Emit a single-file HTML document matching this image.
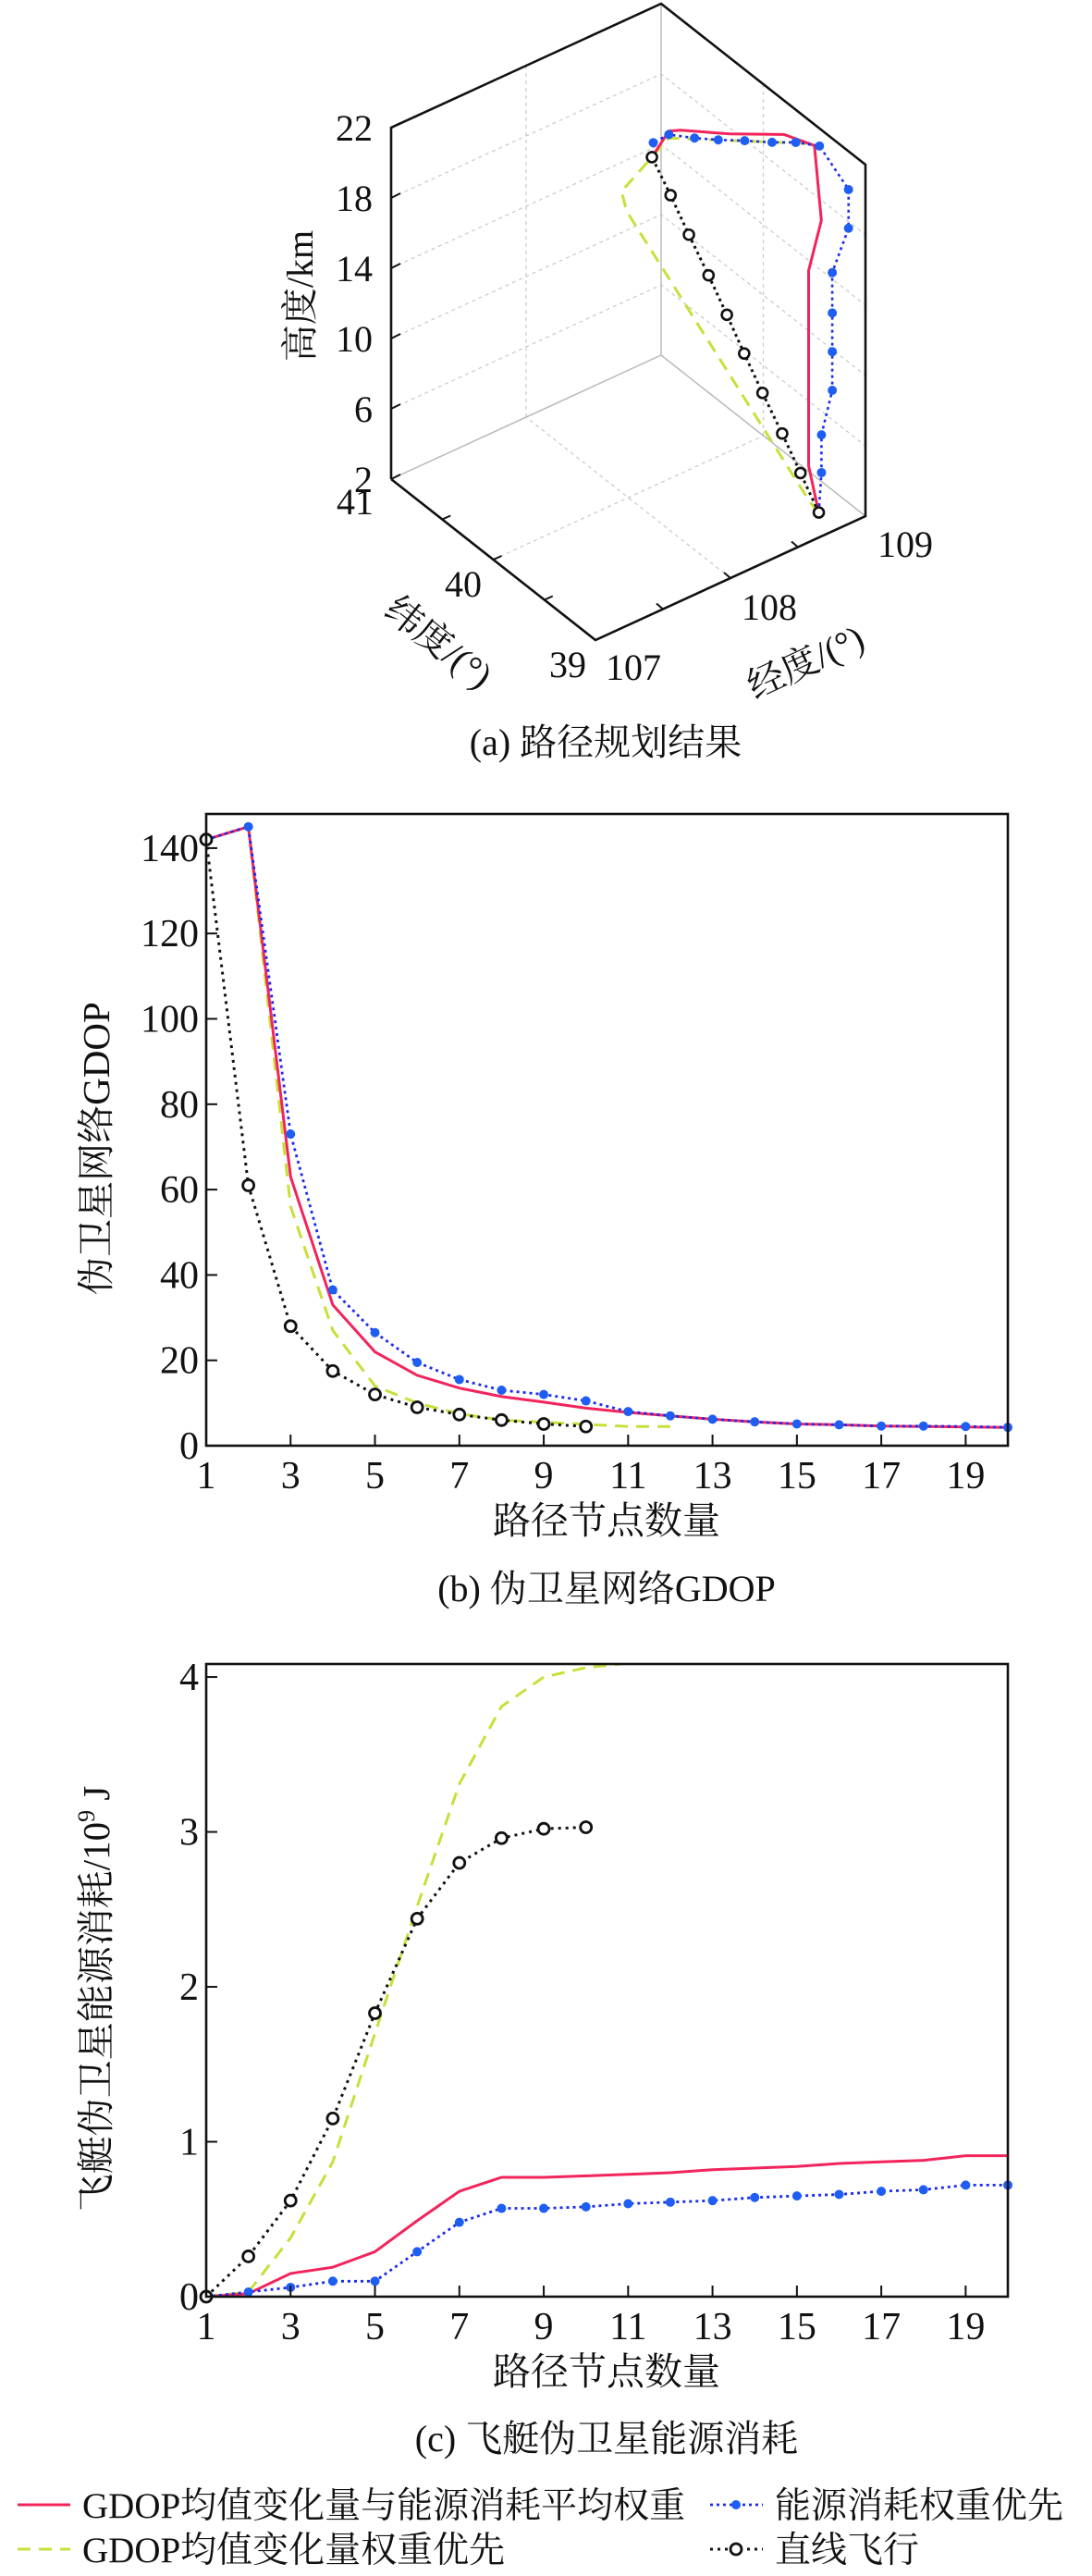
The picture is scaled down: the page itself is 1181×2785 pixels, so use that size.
<!DOCTYPE html>
<html><head><meta charset="utf-8"><style>
html,body{margin:0;padding:0;background:#fff;}
svg{display:block;}
text{font-family:"Liberation Serif","Noto Serif CJK SC",serif;fill:#111;}
</style></head><body>
<svg id="fig" width="1181" height="2785" viewBox="0 0 1181 2785" xmlns="http://www.w3.org/2000/svg">
<g id="a"></g>
<g id="b"></g>
<g id="c"></g>
<g id="legend"></g>
</svg>
<script>
// ---------- 3D path data (lon, lat, alt km) ----------
const redLon=[108.73,108.73,108.73,108.9,109.0,108.85,108.6,108.35,108.3,108.16];
const redLat=[39.1,39.2,39.2,39.3,39.5,39.6,39.8,39.95,40.0,39.98];
const redAlt=[2.7,4.9,16.0,17.8,20.8,21.5,21.5,21.9,21.8,20.9];
const blueLon=[108.73,108.75,108.75,108.83,108.83,108.83,108.83,108.95,108.95,109.0,108.9,108.8,108.65,108.5,108.4,108.3,108.2,108.16];
const blueLat=[39.1,39.1,39.1,39.1,39.1,39.1,39.1,39.1,39.1,39.45,39.55,39.65,39.72,39.78,39.88,40.0,40.02,39.98];
const blueAlt=[2.7,4.9,7.05,9.3,11.5,13.7,16.0,18.1,20.3,21.0,21.1,21.0,21.3,21.6,21.6,21.6,21.4,20.9];
const lineLon=[108.73,108.67,108.61,108.54,108.48,108.42,108.36,108.29,108.23,108.16];
const lineLat=[39.10,39.20,39.30,39.40,39.50,39.59,39.69,39.79,39.89,39.98];
const lineAlt=[2.7,4.7,6.7,8.8,10.8,12.8,14.8,16.9,18.9,20.9];
const yelLon=[108.73,108.7,107.95,107.95,108.16,108.3,109.0];
const yelLat=[39.1,39.15,39.95,40.0,39.98,40.0,39.5];
const yelAlt=[2.7,3.2,18.7,19.6,20.9,21.4,20.9];
const altTicks=[2,6,10,14,18,22];
const latTicks=[39,40,41];
const lonTicks=[107,108,109];

// ---------- GDOP data ----------
const nodes=[1,2,3,4,5,6,7,8,9,10,11,12,13,14,15,16,17,18,19,20];
const gdopRed=[142,145,63,33,22,16.5,13.5,11.5,10.2,8.8,7.8,7,6.2,5.6,5.1,4.9,4.6,4.5,4.4,4.3];
const gdopBlue=[142,145,73,36.5,26.5,19.5,15.5,13,12,10.5,8,7,6.2,5.6,5.1,4.9,4.6,4.6,4.5,4.3];
const gdopYellow=[142,145,56,27,14,10,7.5,6,5.5,5,4.5,4.5];
const gdopBlack=[142,61,28,17.5,12,9,7.3,6,5.1,4.5];
const gdopYTicks=[0,20,40,60,80,100,120,140];
const xTicks=[1,3,5,7,9,11,13,15,17,19];

// ---------- Energy data (1e9 J) ----------
const enRed=[0,0.02,0.15,0.19,0.29,0.49,0.68,0.77,0.77,0.78,0.79,0.80,0.82,0.83,0.84,0.86,0.87,0.88,0.91,0.91];
const enBlue=[0,0.03,0.06,0.10,0.10,0.29,0.48,0.57,0.57,0.58,0.60,0.61,0.62,0.64,0.65,0.66,0.68,0.69,0.72,0.72];
const enYellow=[0,0.03,0.38,0.87,1.70,2.52,3.31,3.81,4.0,4.06,4.09];
const enBlack=[0,0.26,0.62,1.15,1.83,2.44,2.80,2.96,3.02,3.03];
const enYTicks=[0,1,2,3,4];

const NS="http://www.w3.org/2000/svg";
function mk(parent,tag,attrs,txt){const e=document.createElementNS(NS,tag);for(const k in attrs)e.setAttribute(k,attrs[k]);if(txt!==undefined)e.textContent=txt;parent.appendChild(e);return e;}
const RED="#f2245c",BLUE="#1b2bf0",BMARK="#1f5ef2",YEL="#c9df3a",BLK="#111";

// ---------- chart a ----------
const A=document.getElementById('a');
function P(lon,lat,alt){const dl=lon-107,da=lat-39;return [644+146*dl-110.5*da,692-67*dl-87*da-19*(alt-2)];}
function poly(g,pts,attrs){return mk(g,'polyline',Object.assign({points:pts.map(p=>p[0].toFixed(1)+','+p[1].toFixed(1)).join(' '),fill:'none'},attrs));}
// grid
const grid=mk(A,'g',{stroke:'#ccc','stroke-width':1.3,'stroke-dasharray':'4,4'});

altTicks.forEach(z=>{poly(grid,[P(107,41,z),P(109,41,z),P(109,39,z)],{});});
poly(grid,[P(108,41,2),P(108,41,22)],{});poly(grid,[P(109,40,2),P(109,40,22)],{});
poly(grid,[P(108,39,2),P(108,41,2)],{});poly(grid,[P(107,40,2),P(109,40,2)],{});
poly(A,[P(109,41,22),P(109,41,2)],{stroke:'#bbb','stroke-width':1.5});
poly(A,[P(107,41,2),P(109,41,2),P(109,39,2)],{stroke:'#bbb','stroke-width':1.5});
const box=poly(A,[P(107,41,2),P(107,39,2),P(109,39,2),P(109,39,22),P(109,41,22),P(107,41,22),P(107,41,2)],{stroke:'#111','stroke-width':2.6});

altTicks.forEach(z=>{const p=P(107,41,z);mk(A,'line',{x1:p[0],y1:p[1],x2:p[0]+10,y2:p[1]-5,stroke:'#111','stroke-width':2});
 const t=mk(A,'text',{x:p[0]-20,y:p[1]+14,'font-size':40,'text-anchor':'end'},String(z));});
[39.5,40,40.5].forEach(l=>{const p=P(107,l,2);mk(A,'line',{x1:p[0],y1:p[1],x2:p[0]+9,y2:p[1]-4,stroke:'#111','stroke-width':2});});
[107.5,108,108.5].forEach(l=>{const p=P(l,39,2);mk(A,'line',{x1:p[0],y1:p[1],x2:p[0]-7,y2:p[1]-6,stroke:'#111','stroke-width':2});});
const latLab=[[614,732],[501,645],[384,556]];
latTicks.forEach((v,i)=>{const t=mk(A,'text',{x:latLab[i][0],y:latLab[i][1],'font-size':40,'text-anchor':'middle'},String(v));});
const lonLab=[[685,735],[832,670],[979,602]];
lonTicks.forEach((v,i)=>{const t=mk(A,'text',{x:lonLab[i][0],y:lonLab[i][1],'font-size':40,'text-anchor':'middle'},String(v));});
let t=mk(A,'text',{x:0,y:0,'font-size':40,'text-anchor':'middle',transform:'translate(338,320) rotate(-90)'},'高度/km');
t=mk(A,'text',{x:0,y:0,'font-size':40,'text-anchor':'middle',transform:'translate(466,705) rotate(38)'},'纬度/(°)');
t=mk(A,'text',{x:0,y:0,'font-size':40,'text-anchor':'middle',transform:'translate(877,728) rotate(-25)'},'经度/(°)');
t=mk(A,'text',{x:655,y:816,'font-size':40,'text-anchor':'middle'},'(a) 路径规划结果');
function path3(lon,lat,alt){return lon.map((v,i)=>P(v,lat[i],alt[i]));}
let s=poly(A,path3(yelLon,yelLat,yelAlt),{stroke:YEL,'stroke-width':3,'stroke-dasharray':'14,9'});
s=poly(A,path3(redLon,redLat,redAlt),{stroke:RED,'stroke-width':3});
const bp=path3(blueLon,blueLat,blueAlt);
s=poly(A,bp,{stroke:BLUE,'stroke-width':2.6,'stroke-dasharray':'3,4'});
bp.forEach(p=>{const c=mk(A,'circle',{cx:p[0],cy:p[1],r:5,fill:BMARK});});
const kp=path3(lineLon,lineLat,lineAlt);
s=poly(A,kp,{stroke:BLK,'stroke-width':3,'stroke-dasharray':'3,4'});
kp.forEach(p=>{const c=mk(A,'circle',{cx:p[0],cy:p[1],r:5.5,fill:'#fff',stroke:BLK,'stroke-width':2.6});});

// ---------- 2D chart helper ----------
function chart(g,top,bottom,ymax,yticks,ylabel,caption,capY,series,ytickFmt){
 const L=223,R=1090;
 const X=i=>L+(i-1)*(R-L)/19, Y=v=>bottom-v*(bottom-top)/ymax;
 const clip='clip'+g.id;
 const d=mk(g,'clipPath',{id:clip});mk(d,'rect',{x:L,y:top,width:R-L,height:bottom-top});
 const sg=mk(g,'g',{'clip-path':'url(#'+clip+')'});
 series.forEach(se=>{
  const pts=se.v.map((v,i)=>[X(nodes[i]),Y(v)]);
  const l=poly(sg,pts,se.attrs);
  if(se.marker){pts.forEach(p=>{const c=mk(g,'circle',se.marker==='blue'?{cx:p[0],cy:p[1],r:5,fill:BMARK}:{cx:p[0],cy:p[1],r:6,fill:'#fff',stroke:BLK,'stroke-width':2.8});});}
 });
 const fr=mk(g,'rect',{x:L,y:top,width:R-L,height:bottom-top,fill:'none',stroke:'#111','stroke-width':2.6});
 
 yticks.forEach(v=>{const y=Y(v);mk(g,'line',{x1:L,y1:y,x2:L+12,y2:y,stroke:'#111','stroke-width':2});
  const tt=mk(g,'text',{x:L-8,y:y+14,'font-size':42,'text-anchor':'end'},ytickFmt(v));});
 xTicks.forEach(v=>{const x=X(v);mk(g,'line',{x1:x,y1:bottom,x2:x,y2:bottom-12,stroke:'#111','stroke-width':2});
  const tt=mk(g,'text',{x:x,y:bottom+46,'font-size':42,'text-anchor':'middle'},String(v));});
 let a=mk(g,'text',{x:656,y:bottom+95,'font-size':41,'text-anchor':'middle'},'路径节点数量');
 a=mk(g,'text',{x:0,y:0,'font-size':41,'text-anchor':'middle',transform:'translate(118,'+((top+bottom)/2+20)+') rotate(-90)'});
 a.innerHTML=ylabel;
 a=mk(g,'text',{x:656,y:capY,'font-size':40,'text-anchor':'middle'},caption);
}
const sRed={stroke:RED,'stroke-width':3},sBlue={stroke:BLUE,'stroke-width':2.8,'stroke-dasharray':'3,4'},sYel={stroke:YEL,'stroke-width':3,'stroke-dasharray':'14,9'},sBlk={stroke:BLK,'stroke-width':3,'stroke-dasharray':'3,5'};
chart(document.getElementById('b'),880,1563,148,gdopYTicks,'伪卫星网络GDOP','(b) 伪卫星网络GDOP',1731,[
 {v:gdopYellow,attrs:sYel,name:'gdop-gdop-priority-line'},
 {v:gdopRed,attrs:sRed,name:'gdop-average-weight-line'},
 {v:gdopBlue,attrs:sBlue,name:'gdop-energy-priority-line',marker:'blue'},
 {v:gdopBlack,attrs:sBlk,name:'gdop-straight-line',marker:'black'}],v=>String(v));
chart(document.getElementById('c'),1799,2483,4.084,enYTicks,'飞艇伪卫星能源消耗/10<tspan dy="-16" font-size="26">9</tspan><tspan dy="16"> J</tspan>','(c) 飞艇伪卫星能源消耗',2650,[
 {v:enYellow,attrs:sYel,name:'energy-gdop-priority-line'},
 {v:enRed,attrs:sRed,name:'energy-average-weight-line'},
 {v:enBlue,attrs:sBlue,name:'energy-energy-priority-line',marker:'blue'},
 {v:enBlack,attrs:sBlk,name:'energy-straight-line',marker:'black'}],v=>String(v));

// ---------- legend ----------
const G=document.getElementById('legend');
function entry(x,y,attrs,marker,label){
 const e=mk(G,'g',{});
 mk(e,'line',Object.assign({x1:x,y1:y,x2:x+57,y2:y},attrs));
 if(marker==='blue')mk(e,'circle',{cx:x+28,cy:y,r:5,fill:BMARK});
 if(marker==='black')mk(e,'circle',{cx:x+28,cy:y,r:6,fill:'#fff',stroke:BLK,'stroke-width':2.8});
 mk(e,'text',{x:x+70,y:y+14,'font-size':39},label);
}
entry(19,2708,sRed,null,'GDOP均值变化量与能源消耗平均权重');
entry(19,2756,sYel,null,'GDOP均值变化量权重优先');
entry(768,2708,sBlue,'blue','能源消耗权重优先');
entry(768,2756,sBlk,'black','直线飞行');
</script>
</body></html>
